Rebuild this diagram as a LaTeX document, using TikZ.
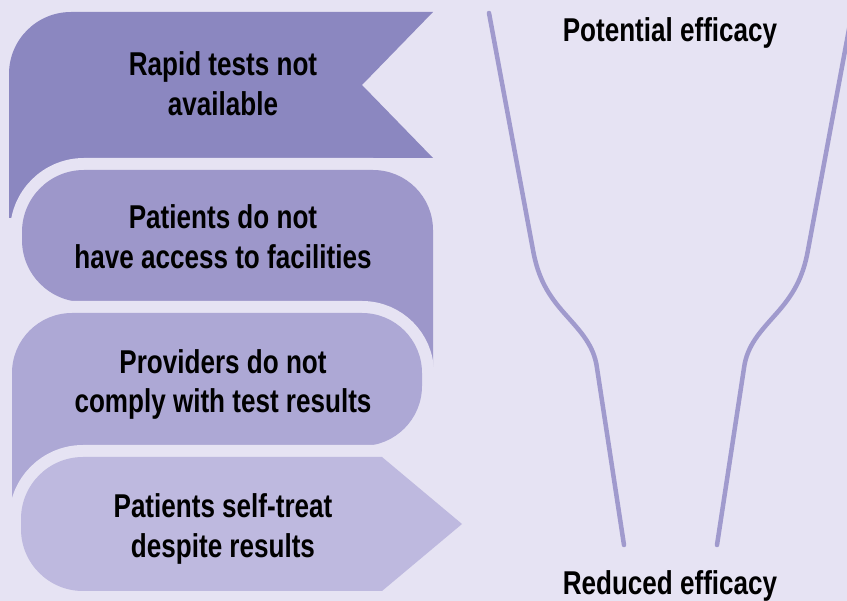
\documentclass[tikz,border=0pt]{standalone}
\usepackage{fontspec}
\setmainfont{Liberation Sans}[FakeStretch=0.79]
\definecolor{bgc}{HTML}{E6E3F3}
\definecolor{cA}{HTML}{8B87C0}
\definecolor{cB}{HTML}{9D97CA}
\definecolor{cC}{HTML}{ADA8D5}
\definecolor{cD}{HTML}{BEB9DF}
\definecolor{fun}{HTML}{A09ACD}
\tikzset{
  gapcut/.style={preaction={draw=bgc, line width=24pt}},
  lbl/.style={font=\fontsize{33}{39.5}\selectfont\bfseries, align=center, inner sep=0pt, text=black},
  funline/.style={draw=fun, line width=4.5pt, line cap=round, line join=round}
}
\begin{document}
\begin{tikzpicture}[x=1pt,y=-1pt]
\useasboundingbox (0,0) rectangle (847,601);
\fill[bgc] (0,0) rectangle (847,601);
% shape 1
\fill[cA] (9,218) -- (9,74) arc[start angle=180, end angle=270, radius=62]
  -- (433,12) -- (362,85) -- (433,158) -- (84,158) -- (84,218) -- cycle;
% shape 2
\fill[cB, gapcut] (84,302) arc[start angle=90, end angle=180, radius=62]
  -- (22,232) arc[start angle=180, end angle=270, radius=62]
  -- (373,170) arc[start angle=270, end angle=360, radius=60]
  -- (433,370) -- (370,370) -- (370,302) -- cycle;
% shape 3
\fill[cC, gapcut] (12,520) -- (12,373) arc[start angle=180, end angle=270, radius=60]
  -- (362,313) arc[start angle=270, end angle=360, radius=60]
  -- (422,386) arc[start angle=0, end angle=90, radius=60]
  -- (90,446) -- (90,520) -- cycle;
% shape 4
\fill[cD, gapcut] (382,457) -- (462,524) -- (382,591)
  -- (83,591) arc[start angle=90, end angle=180, radius=62]
  -- (21,519) arc[start angle=180, end angle=270, radius=62] -- cycle;
% labels
\node[lbl] (t1) at (223,83.5) {Rapid tests not\\available};
\node[lbl] (t2) at (223,236.5) {Patients do not\\have access to facilities};
\node[lbl] (t3) at (223,384.5) {Providers do not\\comply with test results};
\node[lbl] (t4) at (223,529) {Patients self-treat\\despite results};
\node[lbl, anchor=base] (top) at (670,42) {Potential efficacy};
\node[lbl, anchor=base] (bot) at (670,595) {Reduced efficacy};
% funnel
\coordinate (la) at (489,13);
\coordinate (lb) at (533,250);
\coordinate (lc) at (565,314);
\coordinate (ld) at (597,368);
\coordinate (le) at (624,545);
\coordinate (ra) at (852,13);
\coordinate (rb) at (808,250);
\coordinate (rc) at (776,314);
\coordinate (rd) at (744,368);
\coordinate (re) at (717,545);
\draw[funline] (la) -- (lb) .. controls (538,278) and (548,295) .. (lc)
  .. controls (580,331) and (594,345) .. (ld) -- (le);
\draw[funline] (ra) -- (rb) .. controls (803,278) and (793,295) .. (rc)
  .. controls (761,331) and (747,345) .. (rd) -- (re);
\end{tikzpicture}
\end{document}
